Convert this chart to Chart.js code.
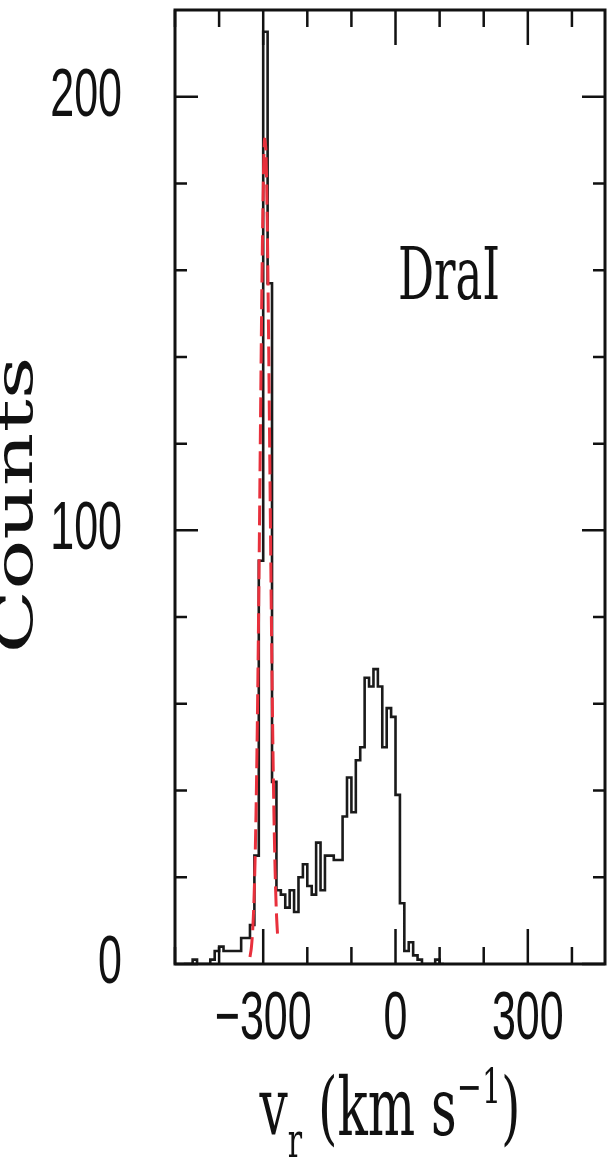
<!DOCTYPE html>
<html>
<head>
<meta charset="utf-8">
<script src="https://cdn.jsdelivr.net/npm/chart.js@4.4.0/dist/chart.umd.min.js"></script>
<style>
  html, body { margin: 0; padding: 0; background: #fff; }
  #wrap { width: 609px; height: 1161px; }
</style>
</head>
<body>
<div id="wrap"><canvas id="velChart" width="609" height="1161"></canvas></div>
<script>
// histogram: left edge of each 10 km/s bin and its count
const binLeft = [-480, -470, -460, -450, -440, -430, -420, -410, -400, -390,
                 -380, -370, -360, -350, -340, -330, -320, -310, -300, -290,
                 -280, -270, -260, -250, -240, -230, -220, -210, -200, -190,
                 -180, -170, -160, -150, -140, -130, -120, -110, -100, -90,
                 -80, -70, -60, -50, -40, -30, -20, -10, 0, 10,
                 20, 30, 40, 50, 60, 70, 80, 90, 100];
const counts  = [0, 0, 1, 0, 0, 0, 1, 3, 4, 3,
                 3, 3, 3, 6, 6, 9, 25, 93, 215, 157,
                 42, 17, 16, 13, 17, 12, 20, 23, 18, 16,
                 28, 17, 25, 25, 24, 24, 34, 43, 35, 47,
                 50, 66, 64, 68, 64, 50, 59, 57, 39, 14,
                 3, 5, 2, 1, 0, 0, 0, 1, 0];
const binWidth = 10;

// gaussian fit to the cold peak (red dashed)
const fitVel    = [-330, -327, -324, -321, -318, -315, -312, -309, -306, -303, -300,
                   -297, -294, -291, -288, -285, -282, -279, -276, -273, -270, -267];
const fitCounts = [1.6, 3.6, 7.5, 14.4, 25.8, 43.0, 66.3, 95.0, 126.4, 156.0, 178.8,
                   190.2, 187.9, 172.3, 146.6, 115.8, 85.0, 57.9, 36.6, 21.5, 11.7, 5.9];

const xMajorTicks = [-300, 0, 300];
const xMinorTicks = [-500, -400, -200, -100, 100, 200, 400];
const xTickLabels = ['\u2212300', '0', '300'];
const yMajorTicks = [0, 100, 200];
const yMinorTicks = [20, 40, 60, 80, 120, 140, 160, 180];
const yTickLabels = ['0', '100', '200'];

const xMin = -500, xMax = 475, yMin = 0, yMax = 220;
const SY = 1.6; // vertical stretch of the lettering

const histPoints = binLeft.map((v, i) => ({ x: v, y: counts[i] }));
histPoints.push({ x: binLeft[binLeft.length - 1] + binWidth, y: counts[counts.length - 1] });
const fitPoints = fitVel.map((v, i) => ({ x: v, y: fitCounts[i] }));

function stretchText(ctx, text, x, y, font, align, baseline) {
    ctx.save();
    ctx.translate(x, y);
    ctx.scale(1, SY);
    ctx.font = font;
    ctx.textAlign = align || 'center';
    ctx.textBaseline = baseline || 'middle';
    ctx.fillText(text, 0, 0);
    ctx.restore();
}

const framePlugin = {
    id: 'frame',
    afterDatasetsDraw(chart) {
        const ctx = chart.ctx;
        const a = chart.chartArea;
        const xs = chart.scales.x, ys = chart.scales.y;
        ctx.save();
        ctx.strokeStyle = '#111';
        ctx.fillStyle = '#111';
        ctx.lineWidth = 3;
        ctx.strokeRect(a.left, a.top, a.right - a.left, a.bottom - a.top);

        ctx.lineWidth = 2.5;
        ctx.beginPath();
        const xTick = (v, len) => {
            const px = xs.getPixelForValue(v);
            ctx.moveTo(px, a.bottom); ctx.lineTo(px, a.bottom - len);
            ctx.moveTo(px, a.top); ctx.lineTo(px, a.top + len);
        };
        const yTick = (v, len) => {
            const py = ys.getPixelForValue(v);
            ctx.moveTo(a.left, py); ctx.lineTo(a.left + len, py);
            ctx.moveTo(a.right, py); ctx.lineTo(a.right - len, py);
        };
        xMajorTicks.forEach(v => xTick(v, 35));
        xMinorTicks.forEach(v => xTick(v, 17));
        yMajorTicks.forEach(v => yTick(v, 23));
        yMinorTicks.forEach(v => yTick(v, 12));
        ctx.stroke();

        const numFont = '43px "Liberation Sans", Arial, sans-serif';
        xMajorTicks.forEach((v, i) => {
            stretchText(ctx, xTickLabels[i], xs.getPixelForValue(v), 1020, numFont, 'center');
        });
        yMajorTicks.forEach((v, i) => {
            stretchText(ctx, yTickLabels[i], 122, ys.getPixelForValue(v), numFont, 'right');
        });

        const serif = '"DejaVu Serif", serif';
        stretchText(ctx, 'DraI', 449, 280, '45px ' + serif, 'center');

        // x title: v_r (km s^-1)
        const big = '50px ' + serif, small = '30px ' + serif;
        const parts = [
            { t: 'v', f: big, dy: 0 },
            { t: 'r', f: small, dy: 22 },
            { t: ' (km s', f: big, dy: 0 },
            { t: '\u22121', f: small, dy: -32 },
            { t: ')', f: big, dy: 0 }
        ];
        let total = 0;
        parts.forEach(p => { ctx.font = p.f; p.w = ctx.measureText(p.t).width; total += p.w; });
        let cx = 390 - total / 2;
        const base = 1135;
        parts.forEach(p => {
            stretchText(ctx, p.t, cx, base + p.dy, p.f, 'left', 'alphabetic');
            cx += p.w;
        });

        // y title, rotated
        ctx.save();
        ctx.translate(32, 505);
        ctx.rotate(-Math.PI / 2);
        ctx.scale(SY, 1);
        ctx.font = '52px ' + serif;
        ctx.textAlign = 'center';
        ctx.textBaseline = 'alphabetic';
        ctx.fillText('Counts', 0, 0);
        ctx.restore();

        ctx.restore();
    }
};

new Chart(document.getElementById('velChart').getContext('2d'), {
    type: 'line',
    data: {
        datasets: [
            {
                label: 'Counts',
                data: histPoints,
                stepped: 'before',
                borderColor: '#1a1a1a',
                borderWidth: 2.6,
                pointRadius: 0,
                fill: false,
                order: 2
            },
            {
                label: 'Gaussian fit',
                data: fitPoints,
                borderColor: '#e8303c',
                borderWidth: 3,
                borderDash: [20, 7],
                pointRadius: 0,
                tension: 0.3,
                fill: false,
                order: 1
            }
        ]
    },
    options: {
        responsive: false,
        animation: false,
        devicePixelRatio: 1,
        layout: { padding: { left: 175, right: 4, top: 10, bottom: 197 } },
        plugins: { legend: { display: false }, tooltip: { enabled: false } },
        scales: {
            x: { type: 'linear', min: xMin, max: xMax, display: false },
            y: { min: yMin, max: yMax, display: false }
        }
    },
    plugins: [framePlugin]
});
</script>
</body>
</html>
